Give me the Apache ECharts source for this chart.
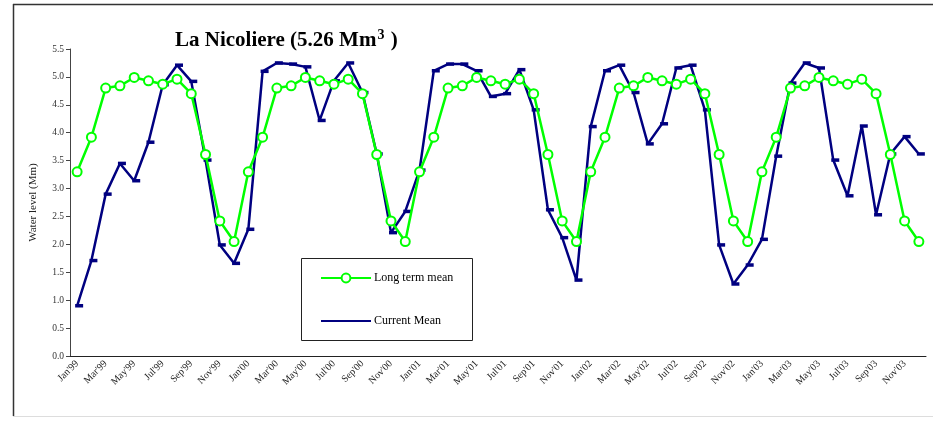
<!DOCTYPE html>
<html><head><meta charset="utf-8">
<script src="https://cdn.jsdelivr.net/npm/echarts@6/dist/echarts.min.js"></script>
<style>html,body{margin:0;padding:0;background:#fff}#c{width:933px;height:421px}</style>
</head><body><div id="c"></div>
<script>
const months = [
 "Jan'99","Feb'99","Mar'99","Apr'99","May'99","Jun'99","Jul'99","Aug'99","Sep'99","Oct'99","Nov'99","Dec'99",
 "Jan'00","Feb'00","Mar'00","Apr'00","May'00","Jun'00","Jul'00","Aug'00","Sep'00","Oct'00","Nov'00","Dec'00",
 "Jan'01","Feb'01","Mar'01","Apr'01","May'01","Jun'01","Jul'01","Aug'01","Sep'01","Oct'01","Nov'01","Dec'01",
 "Jan'02","Feb'02","Mar'02","Apr'02","May'02","Jun'02","Jul'02","Aug'02","Sep'02","Oct'02","Nov'02","Dec'02",
 "Jan'03","Feb'03","Mar'03","Apr'03","May'03","Jun'03","Jul'03","Aug'03","Sep'03","Oct'03","Nov'03","Dec'03"
];
const longTermMean = [
 3.30,3.92,4.80,4.84,4.99,4.93,4.87,4.96,4.70,3.61,2.42,2.05,
 3.30,3.92,4.80,4.84,4.99,4.93,4.87,4.96,4.70,3.61,2.42,2.05,
 3.30,3.92,4.80,4.84,4.99,4.93,4.87,4.96,4.70,3.61,2.42,2.05,
 3.30,3.92,4.80,4.84,4.99,4.93,4.87,4.96,4.70,3.61,2.42,2.05,
 3.30,3.92,4.80,4.84,4.99,4.93,4.87,4.96,4.70,3.61,2.42,2.05
];
const currentMean = [
 0.90,1.71,2.90,3.45,3.14,3.83,4.86,5.21,4.92,3.51,1.99,1.66,
 2.27,5.10,5.25,5.23,5.18,4.22,4.93,5.25,4.72,3.62,2.21,2.59,
 3.33,5.11,5.23,5.23,5.11,4.65,4.70,5.13,4.41,2.62,2.12,1.36,
 4.11,5.11,5.21,4.72,3.80,4.16,5.16,5.21,4.41,1.99,1.29,1.63,
 2.09,3.58,4.89,5.25,5.16,3.51,2.87,4.12,2.53,3.62,3.93,3.62
];
const titleMain = 'La Nicoliere (5.26 Mm';
const titleSup = '3';
const titleEnd = ' )';
const yName = 'Water level (Mm)';
const seriesNames = ['Long term mean', 'Current Mean'];

const F = 'Liberation Serif, Times New Roman, serif';
const chart = echarts.init(document.getElementById('c'), null, {renderer: 'canvas'});
chart.setOption({
  animation: false,
  backgroundColor: '#fff',
  title: {
    text: '{a|' + titleMain + '}{s|' + titleSup + '}{a|' + titleEnd + '}',
    left: 175, top: 25, padding: 0,
    textStyle: {
      rich: {
        a: {fontFamily: F, fontWeight: 'bold', fontSize: 21, color: '#000', lineHeight: 26, verticalAlign: 'bottom'},
        s: {fontFamily: F, fontWeight: 'bold', fontSize: 14, color: '#000', verticalAlign: 'bottom', padding: [0, 1, 9, 1]}
      }
    }
  },
  graphic: [
    {type: 'line', shape: {x1: 13.5, y1: 4, x2: 13.5, y2: 416}, style: {stroke: '#333', lineWidth: 1.5}},
    {type: 'line', shape: {x1: 13, y1: 4.5, x2: 933, y2: 4.5}, style: {stroke: '#333', lineWidth: 1.5}},
    {type: 'line', shape: {x1: 13, y1: 416.5, x2: 933, y2: 416.5}, style: {stroke: '#ddd', lineWidth: 1}},
    {type: 'rect', shape: {x: 301.5, y: 258.5, width: 171, height: 82}, style: {fill: '#fff', stroke: '#222', lineWidth: 1}, z: 50}
  ],
  legend: {
    orient: 'vertical', left: 320, top: 272, itemWidth: 50, itemHeight: 11, itemGap: 31,
    padding: 0, z: 60,
    textStyle: {fontFamily: F, fontSize: 12, color: '#000', padding: [0, 0, 0, -2]},
    data: [
      {name: seriesNames[0]},
      {name: seriesNames[1], itemStyle: {color: 'rgba(0,0,0,0)', borderWidth: 0}}
    ]
  },
  grid: {left: 70, right: 7, top: 49, bottom: 65, containLabel: false},
  xAxis: {
    type: 'category', data: months, boundaryGap: true,
    axisLine: {lineStyle: {color: '#222', width: 1}},
    axisTick: {interval: 0, length: 4, lineStyle: {color: '#222'}},
    axisLabel: {interval: 1, rotate: 45, fontFamily: F, fontSize: 10, color: '#222', margin: 6}
  },
  yAxis: {
    type: 'value', min: 0, max: 5.5, interval: 0.5,
    name: yName, nameLocation: 'middle', nameRotate: 90, nameGap: 31,
    nameTextStyle: {fontFamily: F, fontSize: 11, color: '#222'},
    splitLine: {show: false},
    axisLine: {show: true, lineStyle: {color: '#444', width: 1}},
    axisTick: {show: true, length: 4, lineStyle: {color: '#444'}},
    axisLabel: {fontFamily: F, fontSize: 9.5, color: '#333', margin: 6, formatter: v => v.toFixed(1)}
  },
  series: [
    {
      name: seriesNames[0], type: 'line', data: longTermMean,
      symbol: 'emptyCircle', symbolSize: 9,
      lineStyle: {color: '#00ff00', width: 2.5},
      itemStyle: {color: '#00ff00', borderColor: '#00ff00', borderWidth: 2.2},
      z: 3
    },
    {
      name: seriesNames[1], type: 'line', data: currentMean,
      symbol: 'rect', symbolSize: [8, 3.5], symbolOffset: [2, 0],
      lineStyle: {color: '#000080', width: 2.5},
      itemStyle: {color: '#000080'},
      z: 2
    }
  ]
});
</script></body></html>
